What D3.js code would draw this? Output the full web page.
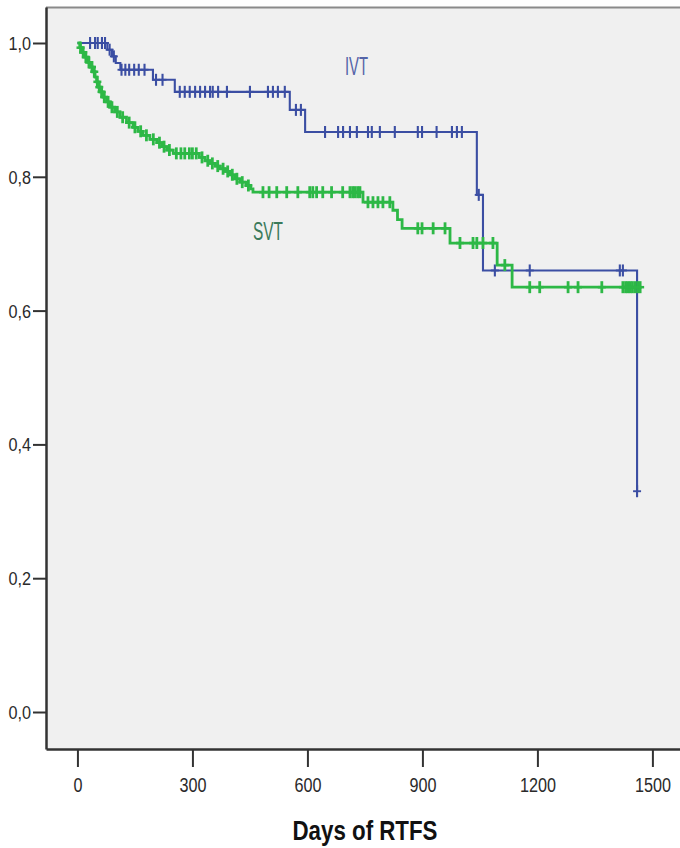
<!DOCTYPE html>
<html>
<head>
<meta charset="utf-8">
<script src="https://cdn.jsdelivr.net/npm/d3@7"></script>
<style>
  html, body { margin: 0; padding: 0; background: #ffffff; }
  svg { display: block; }
  .narrow { font-family: "Liberation Sans", Arial, sans-serif; }
</style>
</head>
<body>
<svg id="chart" width="680" height="848"></svg>
<script>
// Kaplan–Meier steps: [day, survival after the event]
const ivtEvents = [
  [0, 1.0], [78, 0.99], [90, 0.98], [100, 0.97], [112, 0.96], [197, 0.945], [254, 0.927],
  [554, 0.900], [594, 0.867], [1042, 0.773], [1058, 0.660], [1460, 0.330]
];
const ivtEnd = 1460;
const ivtCensored = [
  33, 46, 53, 64, 72, 84, 95,
  115, 125, 135, 148, 160, 175,
  205, 222,
  267, 280, 293, 307, 320, 333, 346, 353, 367, 390, 450, 497, 510, 523, 541,
  570, 583,
  646, 680, 693, 711, 729, 758, 768, 789, 828, 888, 899, 937, 977, 990, 1003,
  1047,
  1089, 1180, 1415, 1423,
  1460
];

const svtEvents = [
  [0, 1.0], [6, 0.993], [12, 0.986], [19, 0.979], [27, 0.971], [34, 0.964], [40, 0.957],
  [46, 0.949], [50, 0.942], [54, 0.934], [60, 0.927], [67, 0.919], [76, 0.912], [85, 0.904],
  [97, 0.897], [111, 0.889], [128, 0.881], [145, 0.874], [158, 0.868], [171, 0.862],
  [189, 0.856], [207, 0.851], [220, 0.845], [233, 0.840], [250, 0.835], [318, 0.829],
  [333, 0.824], [346, 0.820], [360, 0.816], [372, 0.812], [385, 0.808], [398, 0.803],
  [410, 0.797], [424, 0.792], [440, 0.787], [452, 0.782], [458, 0.777], [745, 0.762],
  [823, 0.750], [835, 0.736], [847, 0.723], [972, 0.701], [1095, 0.668], [1134, 0.635]
];
const svtEnd = 1468;
const svtCensored = [
  8, 15, 22, 30, 38, 44, 52, 57, 63, 70, 80, 90, 104, 118, 135, 150, 165, 180, 198, 214,
  226, 240, 258, 270, 280, 292, 300, 310, 325, 340, 352, 366, 380, 392, 404, 416, 430, 446,
  484, 500, 520, 546, 575, 606, 614, 624, 640, 663, 692, 711, 718, 724, 731, 737,
  758, 771, 784, 797, 815,
  888, 899, 928, 959,
  998, 1032, 1042, 1058, 1084,
  1115,
  1180, 1206, 1280, 1306, 1368, 1423, 1430, 1436, 1442, 1448, 1455, 1462, 1468
];

const xTicks = [0, 300, 600, 900, 1200, 1500];
const yTicks = [0, 0.2, 0.4, 0.6, 0.8, 1.0];
const groupNames = ["IVT", "SVT"];
const axisTitle = "Days of RTFS";

const svg = d3.select("#chart");

// Condense a text element horizontally (narrow face look)
function condense(sel, factor) {
  sel.each(function () {
    const w = this.getComputedTextLength();
    d3.select(this).attr("textLength", w * factor).attr("lengthAdjust", "spacingAndGlyphs");
  });
}

// Scales: plot frame spans the full axis extent
const x = d3.scaleLinear().domain([-82, 1572]).range([46, 680]);
const y = d3.scaleLinear().domain([-0.0553, 1.0538]).range([749, 7]);

// Plot background
svg.append("rect")
  .attr("x", x(-82)).attr("y", y(1.0538))
  .attr("width", x(1572) - x(-82)).attr("height", y(-0.0553) - y(1.0538))
  .attr("fill", "#f0f0f0");

// Top frame edge
svg.append("line")
  .attr("x1", x(-82)).attr("x2", x(1572))
  .attr("y1", y(1.0538) + 0.5).attr("y2", y(1.0538) + 0.5)
  .attr("stroke", "#8a8a8a").attr("stroke-width", 2);

// Axes
const fmt = d => d3.format(".1f")(d).replace(".", ",");

const yAxis = svg.append("g")
  .attr("transform", `translate(${x(-82)},0)`)
  .call(d3.axisLeft(y).tickValues(yTicks).tickSize(13).tickSizeOuter(0).tickPadding(2).tickFormat(fmt));

const xAxis = svg.append("g")
  .attr("transform", `translate(0,${y(-0.0553)})`)
  .call(d3.axisBottom(x).tickValues(xTicks).tickSize(18).tickSizeOuter(0).tickPadding(11).tickFormat(d3.format("d")));

[yAxis, xAxis].forEach(g => {
  g.select(".domain").attr("stroke", "#333").attr("stroke-width", 2.5);
  g.selectAll(".tick line").attr("stroke", "#333").attr("stroke-width", 2);
  g.selectAll(".tick text").attr("class", "narrow").attr("fill", "#2a2a2a");
});
yAxis.selectAll(".tick text").style("font-size", "18px").attr("dy", "0.36em");
xAxis.selectAll(".tick text").style("font-size", "19.5px");
condense(yAxis.selectAll(".tick text"), 0.9);
condense(xAxis.selectAll(".tick text"), 0.83);

// Axis title
svg.append("text")
  .attr("x", 365).attr("y", 840)
  .attr("text-anchor", "middle")
  .attr("class", "narrow")
  .attr("font-weight", "bold")
  .attr("font-size", 28)
  .attr("textLength", 145).attr("lengthAdjust", "spacingAndGlyphs")
  .attr("fill", "#111")
  .text(axisTitle);

// Survival curves
const line = d3.line()
  .x(d => x(d[0])).y(d => y(d[1]))
  .curve(d3.curveStepAfter);

function survivalAt(events, t) {
  let s = events[0][1];
  for (const [et, es] of events) { if (et <= t) s = es; else break; }
  return s;
}

function drawGroup(events, end, censored, color, lw) {
  const pts = events.slice();
  const last = pts[pts.length - 1];
  if (last[0] < end) pts.push([end, last[1]]);
  svg.append("path")
    .attr("d", line(pts))
    .attr("fill", "none")
    .attr("stroke", color)
    .attr("stroke-width", lw);
  // censoring marks drawn as small crosses
  const marks = svg.append("g").selectAll("g")
    .data(censored)
    .join("g")
    .attr("transform", d => `translate(${x(d)},${y(survivalAt(events, d))})`);
  marks.append("line")
    .attr("y1", -6).attr("y2", 6)
    .attr("stroke", color).attr("stroke-width", lw);
  marks.append("line")
    .attr("x1", -4).attr("x2", 4)
    .attr("stroke", color).attr("stroke-width", lw * 0.9);
}

drawGroup(ivtEvents, ivtEnd, ivtCensored, "#3b4ea3", 2.1);
drawGroup(svtEvents, svtEnd, svtCensored, "#2db846", 2.8);

// Group labels
svg.append("text")
  .attr("x", 356.5).attr("y", 75)
  .attr("text-anchor", "middle")
  .attr("class", "narrow")
  .style("font-size", "26px")
  .attr("textLength", 23).attr("lengthAdjust", "spacingAndGlyphs")
  .attr("fill", "#5564a8")
  .text(groupNames[0]);

svg.append("text")
  .attr("x", 268).attr("y", 240)
  .attr("text-anchor", "middle")
  .attr("class", "narrow")
  .style("font-size", "26px")
  .attr("textLength", 30).attr("lengthAdjust", "spacingAndGlyphs")
  .attr("fill", "#3a7a5a")
  .text(groupNames[1]);
</script>
</body>
</html>
